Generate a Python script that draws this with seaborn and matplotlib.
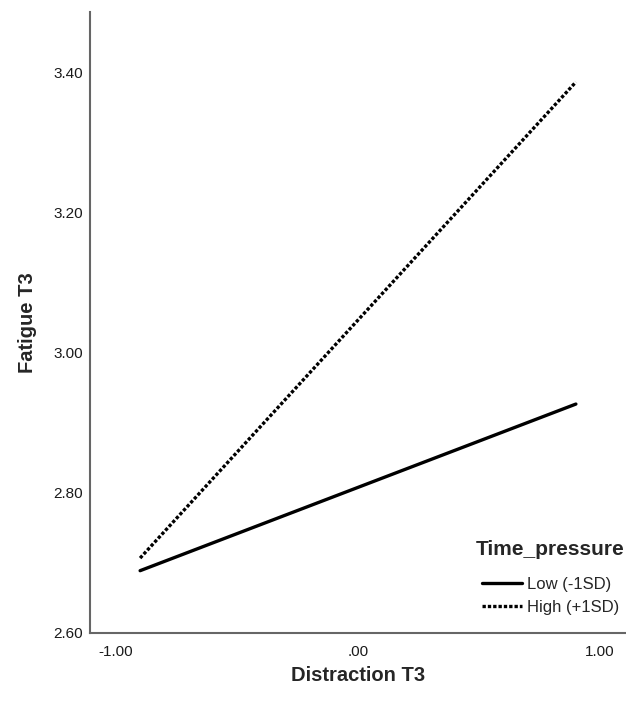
import matplotlib
matplotlib.use("Agg")
import matplotlib.pyplot as plt
import seaborn as sns
import pandas as pd

# Data
groups = ["Low (-1SD)", "High (+1SD)"]
distraction = [-0.90, 0.90]
fatigue_low = [2.689, 2.927]
fatigue_high = [2.707, 3.387]
y_ticks = [2.60, 2.80, 3.00, 3.20, 3.40]
y_ticklabels = ["2.60", "2.80", "3.00", "3.20", "3.40"]
x_ticks = [-1.0, 0.0, 1.0]
x_ticklabels = ["-1.00", ".00", "1.00"]

df = pd.DataFrame({
    "Distraction T3": distraction * 2,
    "Fatigue T3": fatigue_low + fatigue_high,
    "Time_pressure": [groups[0]] * 2 + [groups[1]] * 2,
})

sns.set_theme(style="white")
plt.rcParams["font.family"] = ["Liberation Sans", "DejaVu Sans"]

fig = plt.figure(figsize=(6.26, 7.03), dpi=100)
ax = fig.add_axes([90 / 626, 70 / 703, 1 - 90 / 626, 621 / 703])

sns.lineplot(
    data=df, x="Distraction T3", y="Fatigue T3",
    hue="Time_pressure", style="Time_pressure",
    palette=["black", "black"],
    dashes={groups[0]: "", groups[1]: (1.0, 0.6)},
    linewidth=2.4, ax=ax,
)

ax.set_xlim(-1.107, 1.107)
ax.set_ylim(2.60, 3.487)
ax.set_xticks(x_ticks)
ax.set_xticklabels(x_ticklabels)
ax.set_yticks(y_ticks)
ax.set_yticklabels(y_ticklabels)
ax.tick_params(axis="both", length=0, labelsize=11, colors="#1a1a1a")
ax.tick_params(axis="x", pad=9)
ax.tick_params(axis="y", pad=5)

for s in ["top", "right"]:
    ax.spines[s].set_visible(False)
for s in ["left", "bottom"]:
    ax.spines[s].set_color("#666666")
    ax.spines[s].set_linewidth(1.5)

ax.set_xlabel("Distraction T3", fontsize=14.5, fontweight="bold", labelpad=5)
ax.set_ylabel("Fatigue T3", fontsize=14.5, fontweight="bold", labelpad=12)

sns.move_legend(
    ax, loc="lower right", bbox_to_anchor=(1.026, 0.0055),
    frameon=False, title="Time_pressure",
    title_fontproperties={"weight": "bold", "size": 15},
    fontsize=12, handlelength=2.4, handletextpad=0.25, labelspacing=0.47,
)
leg = ax.get_legend()
leg._legend_box.sep = 13

fig.savefig("out.png", dpi=100, facecolor="white")
